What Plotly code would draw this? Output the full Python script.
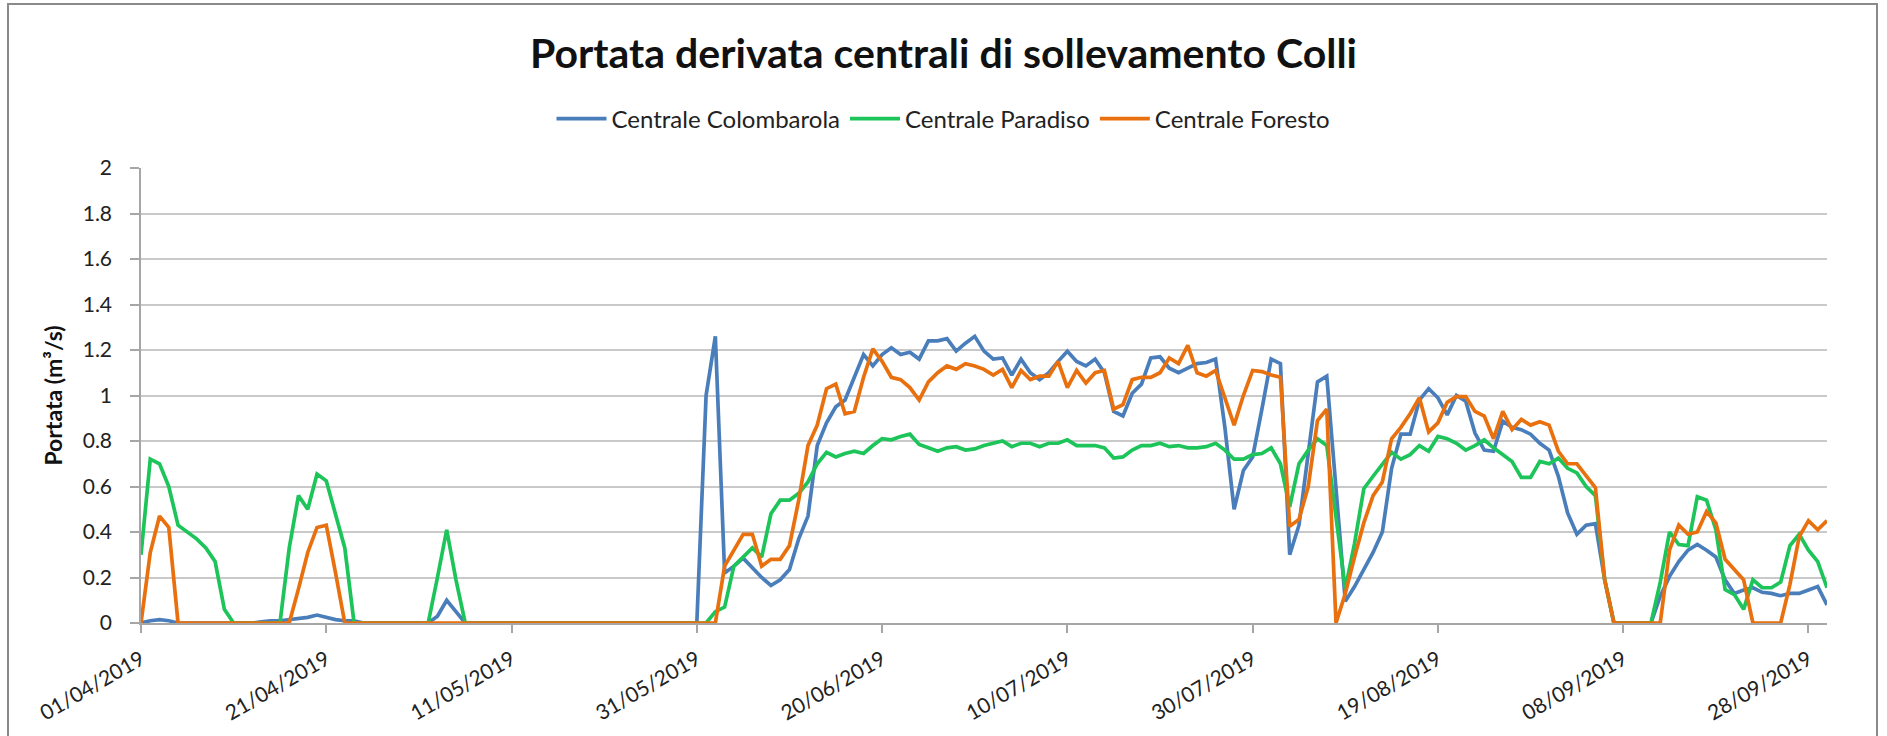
import pandas as pd
import plotly.graph_objects as go

start_date = "2019-04-01"
n_days = 183
dates = pd.date_range(start_date, periods=n_days, freq="D")

colombarola = [
    0, 0.01, 0.015, 0.01, 0, 0, 0, 0, 0, 0,
    0, 0, 0, 0.005, 0.01, 0.01, 0.015, 0.02, 0.025, 0.035,
    0.025, 0.015, 0.01, 0.01, 0, 0, 0, 0, 0, 0,
    0, 0, 0.03, 0.10, 0.05, 0, 0, 0, 0, 0,
    0, 0, 0, 0, 0, 0, 0, 0, 0, 0,
    0, 0, 0, 0, 0, 0, 0, 0, 0, 0,
    0, 1.00, 1.26, 0.22, 0.25, 0.285, 0.24, 0.20, 0.165, 0.19,
    0.235, 0.37, 0.47, 0.78, 0.88, 0.95, 0.98, 1.08, 1.18, 1.13,
    1.18, 1.21, 1.18, 1.19, 1.16, 1.24, 1.24, 1.25, 1.195, 1.23,
    1.26, 1.195, 1.16, 1.165, 1.09, 1.16, 1.10, 1.07, 1.10, 1.15,
    1.195, 1.15, 1.13, 1.16, 1.10, 0.93, 0.91, 1.01, 1.05, 1.165,
    1.17, 1.12, 1.10, 1.12, 1.14, 1.145, 1.16, 0.86, 0.50, 0.67,
    0.73, 0.94, 1.16, 1.14, 0.30, 0.43, 0.75, 1.06, 1.085, 0.60,
    0.095, 0.16, 0.235, 0.31, 0.40, 0.68, 0.83, 0.83, 0.98, 1.03,
    0.99, 0.915, 1.0, 0.975, 0.835, 0.76, 0.755, 0.887, 0.86, 0.85,
    0.83, 0.79, 0.76, 0.645, 0.484, 0.39, 0.43, 0.437, 0.19, 0,
    0, 0, 0, 0, 0.118, 0.205, 0.27, 0.32, 0.345, 0.32,
    0.29, 0.19, 0.13, 0.145, 0.155, 0.135, 0.13, 0.12, 0.13, 0.13,
    0.145, 0.16, 0.08,
]

paradiso = [
    0.30, 0.72, 0.70, 0.60, 0.43, 0.40, 0.37, 0.33, 0.27, 0.06,
    0, 0, 0, 0, 0, 0, 0.33, 0.56, 0.50, 0.655,
    0.625, 0.48, 0.33, 0, 0, 0, 0, 0, 0, 0,
    0, 0, 0.20, 0.41, 0.19, 0, 0, 0, 0, 0,
    0, 0, 0, 0, 0, 0, 0, 0, 0, 0,
    0, 0, 0, 0, 0, 0, 0, 0, 0, 0,
    0, 0, 0.05, 0.07, 0.25, 0.29, 0.33, 0.29, 0.48, 0.54,
    0.54, 0.57, 0.62, 0.70, 0.75, 0.73, 0.745, 0.755, 0.745, 0.78,
    0.81, 0.805, 0.82, 0.83, 0.785, 0.77, 0.755, 0.77, 0.775, 0.76,
    0.765, 0.78, 0.79, 0.80, 0.775, 0.79, 0.79, 0.775, 0.79, 0.79,
    0.805, 0.78, 0.78, 0.78, 0.77, 0.725, 0.73, 0.76, 0.78, 0.78,
    0.79, 0.775, 0.78, 0.77, 0.77, 0.775, 0.79, 0.76, 0.72, 0.72,
    0.74, 0.745, 0.77, 0.70, 0.51, 0.70, 0.76, 0.81, 0.78, 0.45,
    0.15, 0.35, 0.59, 0.645, 0.70, 0.75, 0.72, 0.74, 0.78, 0.755,
    0.82, 0.81, 0.79, 0.76, 0.78, 0.805, 0.77, 0.74, 0.71, 0.64,
    0.64, 0.71, 0.70, 0.725, 0.68, 0.66, 0.60, 0.56, 0.19, 0,
    0, 0, 0, 0, 0.18, 0.40, 0.345, 0.34, 0.555, 0.54,
    0.41, 0.147, 0.125, 0.06, 0.19, 0.155, 0.155, 0.18, 0.34, 0.39,
    0.32, 0.27, 0.155,
]

foresto = [
    0, 0.31, 0.47, 0.42, 0, 0, 0, 0, 0, 0,
    0, 0, 0, 0, 0, 0, 0, 0.15, 0.31, 0.42,
    0.43, 0.22, 0, 0, 0, 0, 0, 0, 0, 0,
    0, 0, 0, 0, 0, 0, 0, 0, 0, 0,
    0, 0, 0, 0, 0, 0, 0, 0, 0, 0,
    0, 0, 0, 0, 0, 0, 0, 0, 0, 0,
    0, 0, 0, 0.25, 0.32, 0.39, 0.39, 0.25, 0.28, 0.28,
    0.34, 0.54, 0.78, 0.87, 1.03, 1.05, 0.92, 0.93, 1.08, 1.205,
    1.15, 1.08, 1.07, 1.035, 0.98, 1.06, 1.10, 1.13, 1.115, 1.14,
    1.13, 1.115, 1.09, 1.115, 1.035, 1.11, 1.07, 1.085, 1.085, 1.15,
    1.035, 1.11, 1.055, 1.10, 1.11, 0.94, 0.96, 1.07, 1.08, 1.08,
    1.10, 1.165, 1.14, 1.22, 1.10, 1.085, 1.11, 0.99, 0.87, 1.0,
    1.11, 1.105, 1.09, 1.08, 0.425, 0.455, 0.60, 0.89, 0.94, 0,
    0.13, 0.29, 0.44, 0.56, 0.62, 0.81, 0.86, 0.92, 0.99, 0.84,
    0.88, 0.97, 0.995, 0.995, 0.93, 0.91, 0.81, 0.93, 0.85, 0.895,
    0.87, 0.885, 0.87, 0.755, 0.70, 0.70, 0.65, 0.595, 0.19, 0,
    0, 0, 0, 0, 0, 0.32, 0.43, 0.39, 0.40, 0.49,
    0.44, 0.28, 0.235, 0.19, 0, 0, 0, 0, 0.17, 0.38,
    0.45, 0.41, 0.45,
]

series_names = ["Centrale Colombarola", "Centrale Paradiso", "Centrale Foresto"]
series_colors = ["#4A7EBB", "#1DC45A", "#E8700E"]

tick_dates = pd.date_range(start_date, periods=10, freq="20D")
tick_labels = [d.strftime("%d/%m/%Y") for d in tick_dates]

title_text = "Portata derivata centrali di sollevamento Colli"
y_title = "Portata (m³/s)"

W, H = 1887, 736
ML, MR, MT, MB = 141, 60, 168, 113

fig = go.Figure()
for name, vals, col in zip(series_names, [colombarola, paradiso, foresto], series_colors):
    fig.add_trace(go.Scatter(x=dates, y=vals, mode="lines", name=name,
                             line=dict(color=col, width=3.7)))

pw = W - ML - MR
ph = H - MT - MB
fig.add_shape(type="rect", xref="paper", yref="paper",
              x0=(8 - ML) / pw, x1=(1877 - ML) / pw,
              y0=-(H + 10 - (H - MB)) / ph, y1=1 + (MT - 4) / ph,
              line=dict(color="#8a8a8a", width=2), fillcolor="rgba(0,0,0,0)", layer="below")

fig.update_layout(
    width=W, height=H,
    margin=dict(l=ML, r=MR, t=MT, b=MB, autoexpand=False),
    paper_bgcolor="white", plot_bgcolor="white",
    font=dict(family="Lato", color="#222222"),
    title=dict(text=title_text, x=0.5, xref="container", xanchor="center",
               y=1 - 54 / H, yref="container", yanchor="middle",
               font=dict(family="Lato", size=41, weight="bold", color="#111111")),
    legend=dict(orientation="h", x=0.5, xref="container", xanchor="center",
                y=1 - 119 / H, yref="container", yanchor="middle",
                font=dict(family="Lato", size=24, color="#222222"),
                itemwidth=50, traceorder="normal"),
    showlegend=True,
)

fig.update_xaxes(
    range=[dates[0], dates[-1]],
    tickmode="array", tickvals=tick_dates, ticktext=tick_labels,
    tickangle=-30, tickfont=dict(family="Lato", size=21, color="#222222"),
    ticks="outside", ticklen=8, tickcolor="#a6a6a6", tickwidth=1.5,
    showgrid=False, showline=True, linecolor="#a6a6a6", linewidth=2,
    zeroline=False, ticklabelstandoff=6,
)
fig.update_yaxes(
    range=[0, 2], dtick=0.2, tick0=0,
    tickfont=dict(family="Lato", size=21, color="#222222"),
    ticks="outside", ticklen=9, tickcolor="#a6a6a6", tickwidth=1.5,
    showgrid=True, gridcolor="#c9c9c9", gridwidth=2,
    showline=True, linecolor="#a6a6a6", linewidth=1.5,
    zeroline=False, ticklabelstandoff=14,
    title=dict(text=y_title, standoff=14,
               font=dict(family="Lato", size=23, weight="bold", color="#111111")),
)

fig.write_html("out.html", config={"displayModeBar": False},
               post_script="document.body.style.margin='0';")
